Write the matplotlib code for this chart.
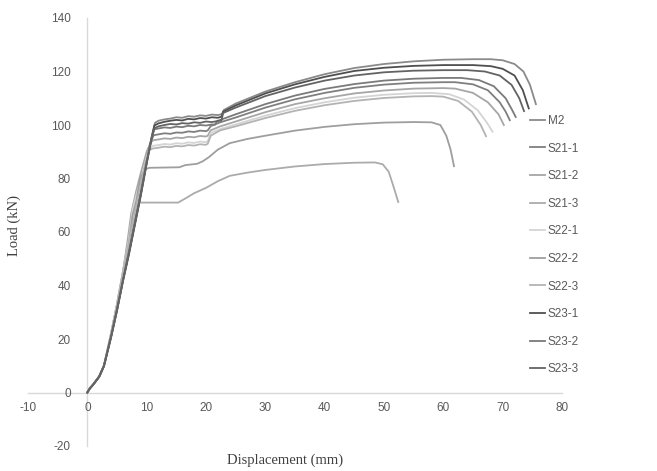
import numpy as np
import matplotlib
matplotlib.use("Agg")
import matplotlib.pyplot as plt

plt.rcParams["axes.unicode_minus"] = False

# series names and colours (Excel-like greys)
names = ["M2", "S21-1", "S21-2", "S21-3", "S22-1", "S22-2", "S22-3",
         "S23-1", "S23-2", "S23-3"]
colors = ["#8a8a8a", "#7f7f7f", "#a6a6a6", "#ababab", "#d4d4d4",
          "#9e9e9e", "#b3b3b3", "#4f4f4f", "#7a7a7a", "#636363"]

# displacement (mm) / load (kN)
m2_x = [0, 0.4, 1, 2, 2.8, 4, 5, 6, 7, 8, 9, 10, 10.9, 11.4, 12, 13, 14, 15, 16, 17,
        18, 19, 20, 21, 22, 22.7, 23.0, 25, 30, 35, 40, 45, 50, 55, 60, 65, 68,
        70, 72, 73.5, 74.6, 75.6]
m2_y = [0, 1.5, 3, 6, 10, 21, 31, 42, 52, 63, 74, 86, 96, 100.8, 101.6, 102.1, 102.4,
        102.9, 102.7, 103.3, 103.1, 103.6, 103.4, 103.9, 103.7, 104.1, 105.6, 108,
        112.5, 116, 119, 121.3, 122.8, 123.8, 124.4, 124.6, 124.6, 124.2, 122.8,
        120, 115, 107.8]

s21_1_x = [0, 0.4, 1, 2, 2.8, 4, 5, 6, 7, 8, 9, 10, 10.7, 11.2, 12, 13, 14, 15, 16,
           17, 18, 19, 20, 20.3, 20.8, 22.4, 25, 30, 35, 40, 45, 50, 55, 60, 62,
           65, 67.5, 69.5, 70.5, 71.2]
s21_1_y = [0, 1.4, 3, 6, 10, 21, 31, 42, 53, 64, 75, 87, 94, 96.2, 96.5, 96.9, 96.7,
           97.2, 97.1, 97.6, 97.4, 97.9, 97.7, 98, 99.6, 101, 102.8, 106.5, 109.6,
           112, 113.9, 115.1, 115.8, 116, 116, 115.2, 113, 108.5, 105, 101.8]

s21_2_x = [0, 0.4, 1, 2, 2.8, 4, 5, 6, 6.8, 7.4, 8.2, 9, 10, 10.6, 11.1, 12, 13, 14,
           15, 16, 17, 18, 19, 20, 20.3, 20.8, 22.4, 25, 30, 35, 40, 45, 50, 55,
           60, 62, 65, 67.5, 69.3, 70.2]
s21_2_y = [0, 1.5, 3, 6, 10, 22, 33, 45, 57, 67, 75, 82, 90, 93.2, 94.3, 94.6, 95,
           94.8, 95.3, 95.1, 95.6, 95.4, 95.9, 95.7, 96, 98, 99.5, 101.3, 104.8,
           107.8, 110, 111.8, 112.9, 113.6, 113.8, 113.6, 112, 108.5, 104, 100]

s21_3_x = [0, 0.4, 1, 2, 2.8, 4, 5, 6, 7, 7.5, 8, 8.7, 15.3, 16.5, 18, 20, 22, 24,
           27, 30, 35, 40, 45, 48.5, 49.8, 50.8, 51.6, 52.4]
s21_3_y = [0, 1.5, 3, 6, 10, 22, 33, 45, 58, 66, 69, 71, 71, 72.5, 74.5, 76.5, 79,
           81, 82.2, 83.2, 84.5, 85.4, 85.9, 86, 85.3, 82.5, 77, 71.2]

s22_1_x = [0, 0.4, 1, 2, 2.8, 4, 5, 6, 7, 7.6, 8.4, 9.2, 10, 10.6, 11, 12, 13, 14,
           15, 16, 17, 18, 19, 20, 20.3, 20.8, 22.4, 25, 30, 35, 40, 45, 50, 55,
           58, 61, 63.5, 65.8, 67.3, 68.3]
s22_1_y = [0, 1.5, 3, 6, 10, 22, 33, 45, 57, 68, 75, 81, 88, 91.5, 92.2, 92.5, 92.9,
           92.7, 93.2, 93, 93.5, 93.3, 93.8, 93.6, 94, 97, 98.5, 100.2, 103.5,
           106.3, 108.5, 110.2, 111.3, 111.9, 112, 111.5, 109.5, 105.5, 101, 97.5]

s22_2_x = [0, 0.4, 1, 2, 2.8, 4, 5, 6, 7, 7.6, 8.3, 8.9, 9.7, 10.5, 15.5, 16.5, 18.5,
           19.5, 20.5, 22, 24, 27, 30, 35, 40, 45, 50, 55, 58, 59.5, 60.5, 61.2,
           61.8]
s22_2_y = [0, 1.5, 3, 6, 10, 21, 32, 43, 55, 66, 72, 80, 83.5, 84, 84.2, 85, 85.5,
           86.5, 88, 90.8, 93.2, 94.8, 96, 97.9, 99.3, 100.3, 100.9, 101.1, 101,
           100, 96, 91, 84.6]

s22_3_x = [0, 0.4, 1, 2, 2.8, 4, 5, 6, 7, 8, 9, 9.8, 10.4, 11, 12, 13, 14, 15, 16,
           17, 18, 19, 20, 20.3, 20.8, 22.4, 25, 30, 35, 40, 45, 50, 55, 58, 60,
           62.5, 64.8, 66.3, 67.2]
s22_3_y = [0, 1.5, 3, 6, 10, 22, 33, 45, 56, 67, 78, 86, 90.5, 91.2, 91.5, 91.9,
           91.7, 92.2, 92, 92.5, 92.3, 92.8, 92.6, 93, 96, 98, 99.5, 102.6, 105.3,
           107.4, 109, 110.1, 110.7, 110.8, 110.6, 109, 105, 100, 95.8]

s23_1_x = [0, 0.4, 1, 2, 2.8, 4, 5, 6, 7, 8, 9, 10, 10.9, 11.3, 12, 13, 14, 15, 16,
           17, 18, 19, 20, 21, 22, 22.6, 22.9, 25, 30, 35, 40, 45, 50, 55, 60, 65,
           68, 70, 72, 73.4, 74.4]
s23_1_y = [0, 1.4, 3, 5.8, 9.8, 20.5, 30.5, 41.5, 51.5, 62.5, 73.5, 85.5, 96, 99.8,
           100.6, 101.2, 101.6, 101.9, 101.7, 102.3, 102.1, 102.6, 102.4, 102.9,
           102.7, 103.1, 105, 107.3, 111.8, 115.2, 118, 120.2, 121.4, 122.1, 122.4,
           122.4, 122, 121, 118.5, 113, 106.2]

s23_2_x = [0, 0.4, 1, 2, 2.8, 4, 5, 6, 7, 8, 9, 10, 10.8, 11.3, 12, 13, 14, 15, 16,
           17, 18, 19, 20, 21, 21.5, 21.9, 25, 30, 35, 40, 45, 50, 55, 60, 63, 66,
           68.5, 70.5, 71.5, 72.2]
s23_2_y = [0, 1.5, 3, 6, 10, 21, 31, 42, 52.5, 63.5, 74.5, 86.5, 95, 98.4, 98.7,
           99.1, 98.9, 99.4, 99.2, 99.7, 99.5, 100, 99.8, 100.2, 100.1, 101.5, 104,
           107.8, 111, 113.5, 115.3, 116.6, 117.3, 117.6, 117.6, 116.8, 114.5, 110,
           106, 103]

s23_3_x = [0, 0.4, 1, 2, 2.8, 4, 5, 6, 7, 8, 9, 10, 10.9, 11.3, 12, 13, 14, 15, 16,
           17, 18, 19, 20, 21, 22, 22.6, 22.9, 25, 30, 35, 40, 45, 50, 55, 60, 64,
           67, 69.5, 71.5, 72.8, 73.6]
s23_3_y = [0, 1.5, 3, 6, 10, 21, 31, 42, 52, 63, 74, 86, 95.5, 98.8, 99.5, 100,
           100.4, 100.2, 100.7, 100.5, 101, 100.8, 101.3, 101.1, 101.5, 101.7, 104.5,
           106.5, 110.8, 114, 116.6, 118.5, 119.7, 120.3, 120.5, 120.5, 120, 118.5,
           115, 110, 105.2]

xs = [m2_x, s21_1_x, s21_2_x, s21_3_x, s22_1_x, s22_2_x, s22_3_x, s23_1_x, s23_2_x, s23_3_x]
ys = [m2_y, s21_1_y, s21_2_y, s21_3_y, s22_1_y, s22_2_y, s22_3_y, s23_1_y, s23_2_y, s23_3_y]

fig = plt.figure(figsize=(6.57, 4.71), dpi=100)
ax = fig.add_axes([28/657, 25/471, 534/657, 428/471])

for x, y, c, n in zip(xs, ys, colors, names):
    ax.plot(x, y, color=c, lw=1.3, label=n)

ax.set_xlim(-10, 80)
ax.set_ylim(-20, 140)
ax.set_xticks(np.arange(-10, 81, 10))
ax.set_yticks(np.arange(-20, 141, 20))

for s in ["top", "right"]:
    ax.spines[s].set_visible(False)
ax.spines["left"].set_position(("data", 0))
ax.spines["bottom"].set_position(("data", 0))
for s in ["left", "bottom"]:
    ax.spines[s].set_color("#d9d9d9")
    ax.spines[s].set_linewidth(1)
    ax.spines[s].set_zorder(0)
ax.tick_params(length=0, labelsize=8.5, labelcolor="#595959")
ax.tick_params(axis="y", pad=12)
ax.tick_params(axis="x", pad=7)
for lab in ax.get_xticklabels() + ax.get_yticklabels():
    lab.set_fontfamily("Liberation Sans")

fig.text(285/657, 1 - 460/471, "Displacement (mm)", ha="center", va="center",
         fontsize=10.5, family="Liberation Serif", color="#404040")
fig.text(14/657, 1 - 225/471, "Load (kN)", ha="center", va="center",
         rotation=90, fontsize=10.5, family="Liberation Serif", color="#404040")

leg = fig.legend(loc="upper left", bbox_to_anchor=(530/657, 1 - 115/471),
                 frameon=False, fontsize=8.5, handlelength=1.3, handletextpad=0.2,
                 labelspacing=1.32, borderaxespad=0, borderpad=0)
for t in leg.get_texts():
    t.set_color("#595959")
    t.set_fontfamily("Liberation Sans")

fig.savefig("out.png", dpi=100)
